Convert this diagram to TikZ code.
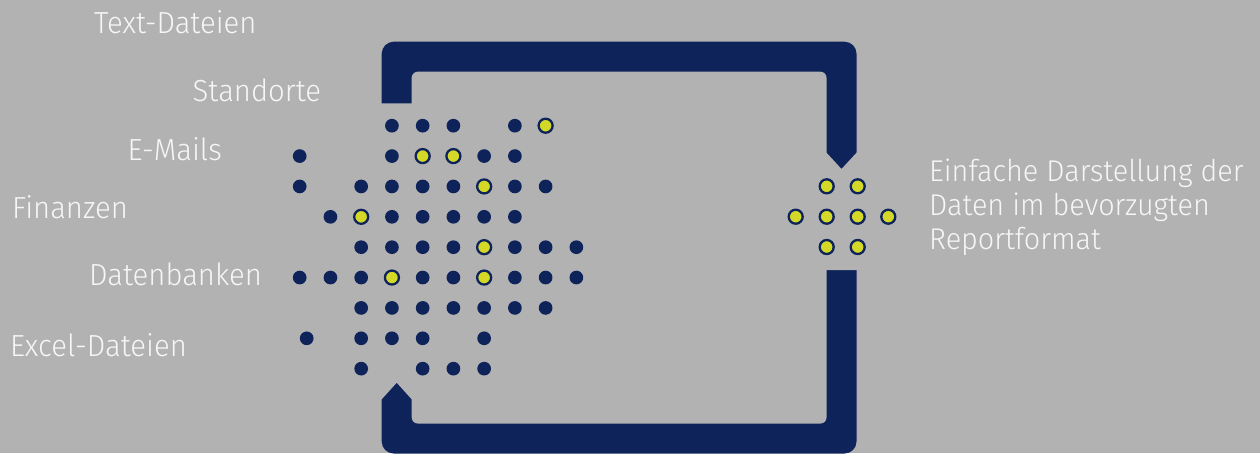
\documentclass[tikz,border=0pt]{standalone}
\usepackage{fontspec}
\setmainfont{Fira Sans Light}[FakeStretch=0.96]
\definecolor{bg}{RGB}{178,178,178}
\definecolor{navy}{RGB}{14,35,90}
\definecolor{ylw}{RGB}{212,217,40}
\definecolor{txt}{RGB}{246,246,246}
\begin{document}
\begin{tikzpicture}[x=1pt,y=-1pt,
  lbl/.style={anchor=base west, inner sep=0pt, text=txt, font=\fontsize{30.5}{33.8}\selectfont},
  ndot/.style={circle, fill=navy, minimum size=13.7pt, inner sep=0pt},
  ydot/.style={circle, fill=ylw, draw=navy, line width=2.3pt, minimum size=14pt, inner sep=0pt}]
\useasboundingbox (0,0) rectangle (1260,453);
\fill[bg] (0,0) rectangle (1260,453);
% frame
\fill[navy, rounded corners=12pt] (381.7,41.7) rectangle (856.5,453.5);
\fill[bg, rounded corners=6pt] (411.7,71.7) rectangle (826.5,423.5);
\fill[bg] (379,103.3) -- (414,103.3) -- (414,399.3) -- (411.7,399.3) -- (396.7,382.7) -- (381.7,399.3) -- (379,399.3) -- cycle;
\fill[bg] (824,152.7) -- (826.5,152.7) -- (841.5,169) -- (856.5,152.7) -- (859,152.7) -- (859,270) -- (824,270) -- cycle;
% left dots
\foreach \c/\r in {3/0,4/0,5/0,7/0,
  0/1,3/1,6/1,7/1,
  0/2,2/2,3/2,4/2,5/2,7/2,8/2,
  1/3,3/3,4/3,5/3,6/3,7/3,
  2/4,3/4,4/4,5/4,7/4,8/4,9/4,
  0/5,1/5,2/5,4/5,5/5,7/5,8/5,9/5,
  2/6,3/6,4/6,5/6,6/6,7/6,8/6,
  2/7,3/7,4/7,6/7,
  2/8,4/8,5/8,6/8}
  \node[ndot] (n\c-\r) at ({299.7+30.74*\c},{125.7+30.37*\r}) {};
\node[ndot] (nx) at (306.7,338.3) {};
\foreach \c/\r in {8/0,4/1,5/1,6/2,2/3,6/4,3/5,6/5}
  \node[ydot] (y\c-\r) at ({299.7+30.74*\c},{125.7+30.37*\r}) {};
% right dots
\foreach \x/\y [count=\i] in {826.7/186.3,857.7/186.3,795.7/216.7,826.7/216.7,857.7/216.7,888.3/216.7,826.7/247,857.7/247}
  \node[ydot] (r\i) at (\x,\y) {};
% labels
\node[lbl] (t1) at (94,33.3) {Text-Dateien};
\node[lbl] (t2) at (192.5,101) {Standorte};
\node[lbl] (t3) at (127.5,160) {E-Mails};
\node[lbl] (t4) at (12,218.3) {Finanzen};
\node[lbl] (t5) at (89,285) {Datenbanken};
\node[lbl] (t6) at (9.8,356.7) {Excel-Dateien};
\node[lbl, align=left, font=\fontsize{30}{33.8}\selectfont] (t7) at (929,249.3) {Einfache Darstellung der\\Daten im bevorzugten\\Reportformat};
\end{tikzpicture}
\end{document}
